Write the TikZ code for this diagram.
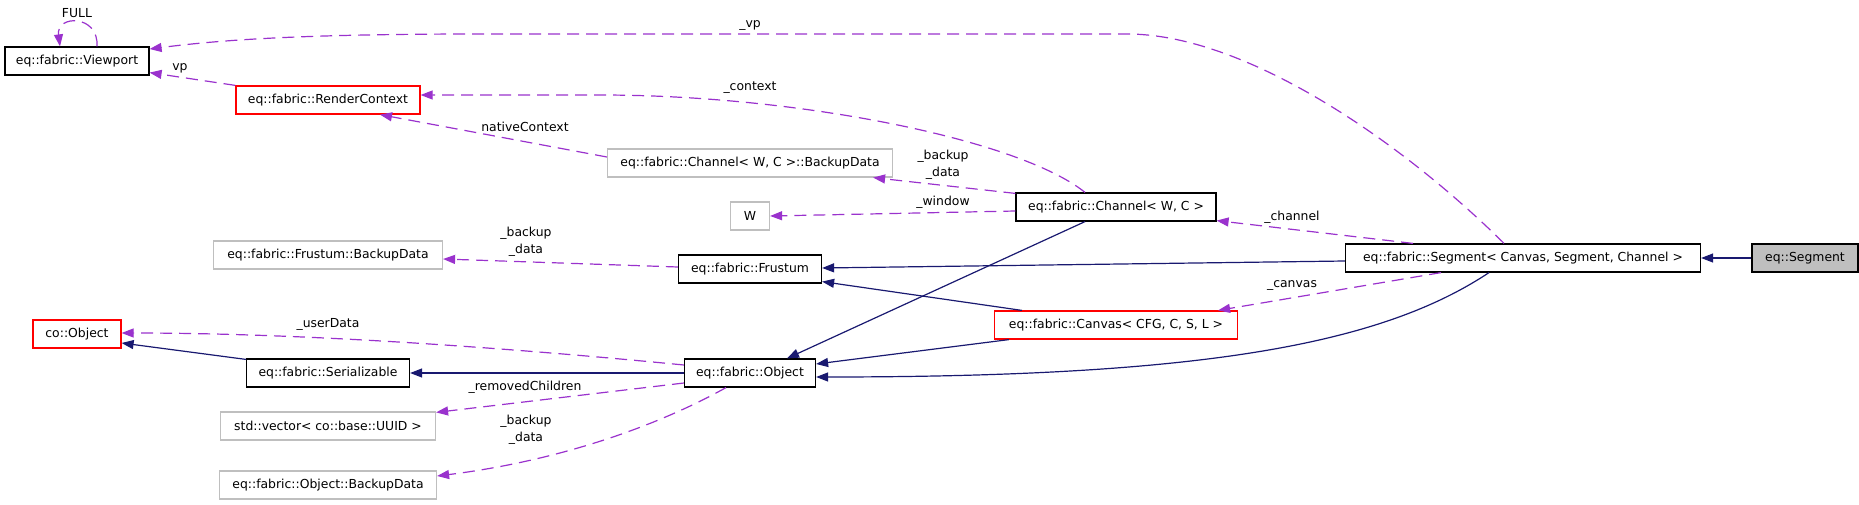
\documentclass[tikz,border=0pt]{standalone}
\usepackage{fontspec}
\setmainfont{DejaVu Sans}
\usepackage{xcolor}
\usetikzlibrary{arrows.meta, calc}

\definecolor{usepurple}{HTML}{9A32CD}
\definecolor{inhnavy}{HTML}{191970}
\definecolor{boxgray}{HTML}{BFBFBF}

\begin{document}
\begin{tikzpicture}[
    x=1pt, y=-1pt,
    >={Triangle[length=12pt,width=9pt]},
    line width=1pt,
    font=\fontsize{12.4}{17}\selectfont,
    classbox/.style={draw=black, rectangle, minimum height=28pt, inner sep=0pt, line width=1.2pt},
    redbox/.style={classbox, draw=red},
    graybox/.style={classbox, draw=boxgray},
    usesedge/.style={->, draw=usepurple, line width=1.2pt, dash pattern=on 12pt off 7pt},
    inheritedge/.style={->, draw=inhnavy, line width=1.2pt},
    lbl/.style={inner sep=0pt, align=center}
]

\useasboundingbox (0,0) rectangle (1859,505);

% =========================================================
% classes
% =========================================================
\node[classbox, minimum width=144pt] (vp) at (77,61) {eq::fabric::Viewport};
\node[redbox, minimum width=184pt] (rc) at (328,100) {eq::fabric::RenderContext};
\node[graybox, minimum width=285pt] (chbd) at (750,163) {eq::fabric::Channel< W, C >::BackupData};
\node[graybox, minimum width=39pt] (win) at (750,216) {W};
\node[classbox, minimum width=200pt] (ch) at (1116,207) {eq::fabric::Channel< W, C >};
\node[graybox, minimum width=229pt] (frbd) at (328,255) {eq::fabric::Frustum::BackupData};
\node[classbox, minimum width=143pt] (fr) at (750,269) {eq::fabric::Frustum};
\node[classbox, minimum width=355pt] (seg) at (1523,258) {eq::fabric::Segment< Canvas, Segment, Channel >};
\node[classbox, fill=boxgray, minimum width=106pt] (eqseg) at (1805,258) {eq::Segment};
\node[redbox, minimum width=88pt] (coobj) at (77,334) {co::Object};
\node[redbox, minimum width=243pt] (cnv) at (1116,325) {eq::fabric::Canvas< CFG, C, S, L >};
\node[classbox, minimum width=163pt] (ser) at (328,373) {eq::fabric::Serializable};
\node[classbox, minimum width=131pt] (obj) at (750,373) {eq::fabric::Object};
\node[graybox, minimum width=215pt] (vec) at (328,426) {std::vector< co::base::UUID >};
\node[graybox, minimum width=217pt] (objbd) at (328,485) {eq::fabric::Object::BackupData};

% =========================================================
% inheritance
% =========================================================
\draw[inheritedge] (eqseg.west) -- (seg.east);
\draw[inheritedge] ($(seg.west)+(0,3)$) -- ($(fr.east)+(0,-1)$);
\draw[inheritedge] ($(seg.south)+(-34,0)$) .. controls (1380,345) and (1200,377) .. ($(obj.east)+(0,4)$);
\draw[inheritedge] ($(ch.south)+(-31,0)$) -- ($(obj.north)+(37,0)$);
\draw[inheritedge] ($(cnv.north west)+(28,0)$) -- ($(fr.south east)+(0,-2)$);
\draw[inheritedge] ($(cnv.south west)+(15,0)$) -- ($(obj.east)+(0,-9)$);
\draw[inheritedge] (obj.west) -- (ser.east);
\draw[inheritedge] ($(ser.north west)+(0,1)$) -- ($(coobj.east)+(0,9)$);

% =========================================================
% usage (members)
% =========================================================
\draw[usesedge] ($(vp.north)+(20,0)$) .. controls +(2,-32) and +(-4,-32) .. ($(vp.north)+(-17,0)$);
\node[lbl] (lfull) at (77,13) {FULL};

\draw[usesedge] ($(seg.north)+(-19,0)$) .. controls (1404,144) and (1247,34) .. (1127,34)
    -- (480,34) .. controls (300,34) and (220,40) .. ($(vp.east)+(0,-12)$);
\node[lbl] (lvp) at (750,25) {\_vp};

\draw[usesedge] (rc.north west) -- ($(vp.south east)+(0,-3)$);
\node[lbl] (lvpb) at (180,68) {vp};

\draw[usesedge] ($(ch.north)+(-31,0)$) .. controls (1020,140) and (800,95) .. (600,95)
    -- ($(rc.east)+(0,-5)$);
\node[lbl] (lcontext) at (750,88) {\_context};

\draw[usesedge] ($(chbd.west)+(0,-6)$) -- ($(rc.south)+(52,0)$);
\node[lbl] (lnative) at (525,127) {nativeContext};

\draw[usesedge] ($(ch.north west)+(0,1)$) -- ($(chbd.south east)+(-20,0)$);
\node[lbl] (lchbd) at (943,165) {\_backup\\\_data};

\draw[usesedge] ($(ch.west)+(0,4)$) -- (win.east);
\node[lbl] (lwindow) at (943,202) {\_window};

\draw[usesedge] ($(seg.north)+(-110,0)$) -- ($(ch.south east)+(0,-1)$);
\node[lbl] (lchannel) at (1292,217) {\_channel};

\draw[usesedge] ($(seg.south)+(-82,0)$) -- ($(cnv.north east)+(-20,0)$);
\node[lbl] (lcanvas) at (1292,285) {\_canvas};

\draw[usesedge] ($(fr.west)+(0,-2)$) -- ($(frbd.east)+(0,4)$);
\node[lbl] (lfrbd) at (526,242) {\_backup\\\_data};

\draw[usesedge] ($(obj.west)+(0,-8)$) .. controls (500,347) and (300,333) .. ($(coobj.east)+(0,-1)$);
\node[lbl] (luser) at (328,324) {\_userData};

\draw[usesedge] ($(obj.west)+(0,10)$) -- ($(vec.north east)+(0,1)$);
\node[lbl] (lremoved) at (525,387) {\_removedChildren};

\draw[usesedge] ($(obj.south)+(-24,0)$) .. controls (650,430) and (550,462) .. ($(objbd.east)+(0,-9)$);
\node[lbl] (lobjbd) at (526,430) {\_backup\\\_data};

\end{tikzpicture}
\end{document}
